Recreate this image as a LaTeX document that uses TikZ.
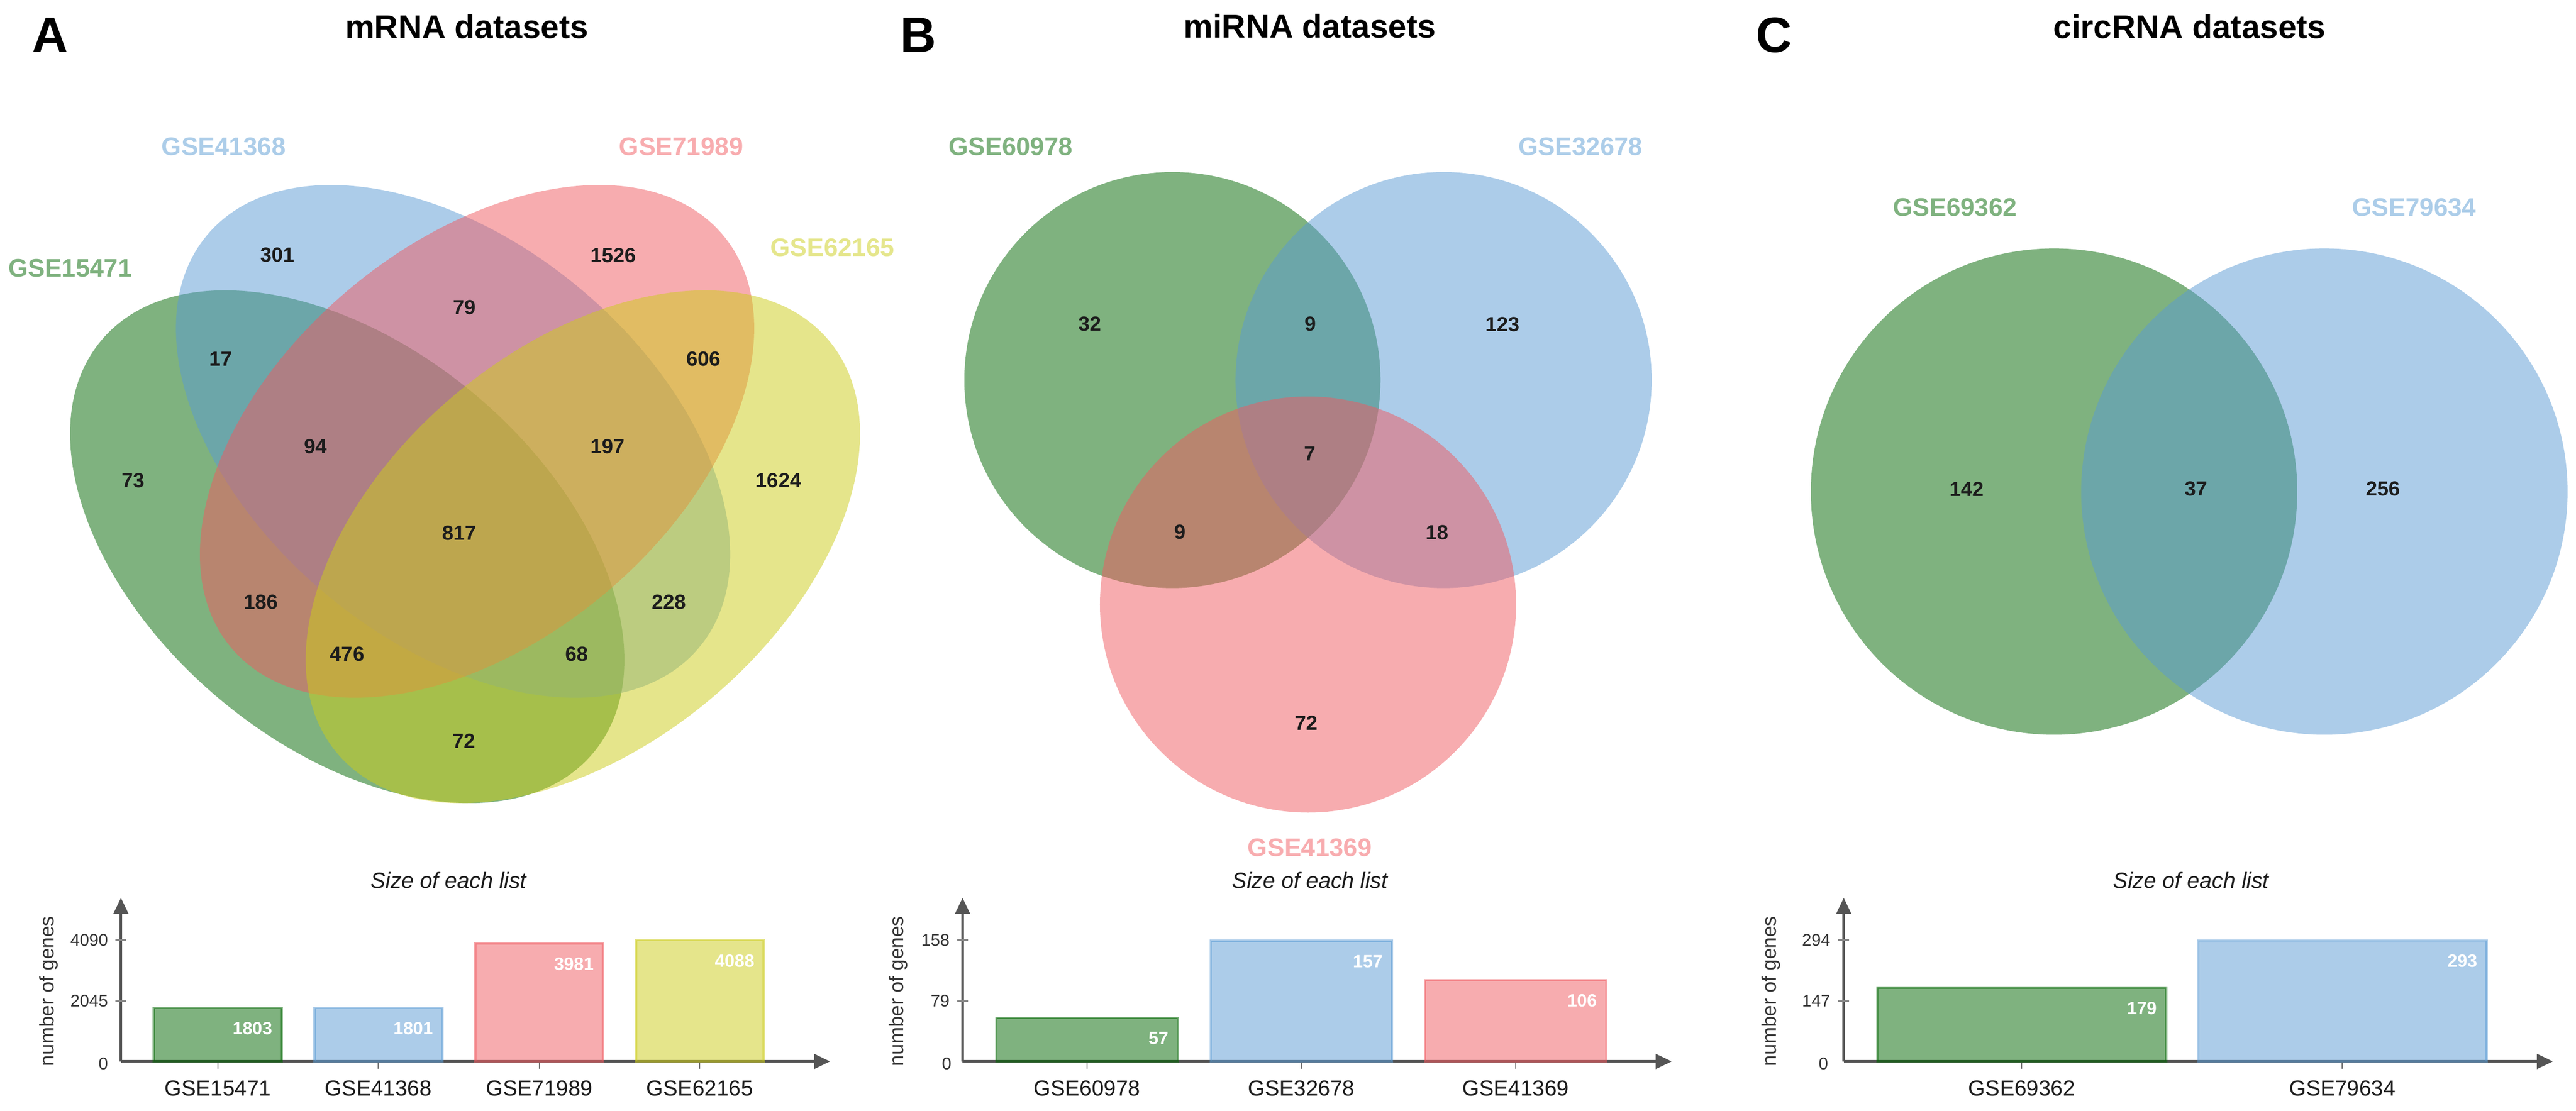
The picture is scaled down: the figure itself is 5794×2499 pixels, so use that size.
\documentclass[tikz,border=0pt]{standalone}
\usepackage{fontspec}
\setmainfont{Liberation Sans}
\usetikzlibrary{arrows.meta}
\definecolor{cg}{RGB}{0,102,0}
\definecolor{cb}{RGB}{90,155,212}
\definecolor{cr}{RGB}{241,90,96}
\definecolor{cy}{RGB}{205,205,25}
\definecolor{lg}{RGB}{127,178,127}
\definecolor{lb}{RGB}{172,205,233}
\definecolor{lr}{RGB}{248,172,175}
\definecolor{ly}{RGB}{229,230,140}
\definecolor{axc}{RGB}{85,85,85}
\definecolor{txt}{RGB}{28,28,28}
\newcommand{\fsz}[1]{\fontsize{#1}{#1}\selectfont}
\tikzset{
  setfill/.style={fill=#1, fill opacity=0.5},
  numlab/.style={font=\fsz{46}\bfseries, text=txt, inner sep=0pt},
  setlab/.style={font=\fsz{57}\bfseries, text=#1, inner sep=0pt},
  paneltitle/.style={font=\fsz{74}\bfseries, inner sep=0pt, anchor=base},
  panelletter/.style={font=\fsz{112}\bfseries, inner sep=0pt, anchor=base},
  chartaxis/.style={draw=axc, line width=5.5pt, -{Triangle[length=36pt,width=33pt]}},
  barrect/.style={fill=#1, fill opacity=0.5, draw=#1, draw opacity=0.5, line width=5pt},
  barval/.style={font=\fsz{40}\bfseries, text=white, inner sep=0pt, anchor=base east},
  ytickmark/.style={draw=axc!70, line width=4pt},
  xtickmark/.style={draw=axc!80, line width=2.5pt},
  ticklab/.style={font=\fsz{38}, text=txt!90, inner sep=0pt, anchor=east},
  catlab/.style={font=\fsz{49}, text=txt, inner sep=0pt, anchor=base},
  ylab/.style={font=\fsz{45}, text=txt!90, inner sep=0pt, rotate=90},
  charttitle/.style={font=\fsz{50}\itshape, text=txt, inner sep=0pt, anchor=base}
}
\begin{document}
\begin{tikzpicture}[x=1pt,y=-1pt]
\fill[white] (0,0) rectangle (5794,2499);
\useasboundingbox (0,0) rectangle (5794,2499);

% ================= Panel A =================
\node[panelletter] (LA) at (113,118) {A};
\node[paneltitle] (TA) at (1050,86) {mRNA datasets};
\begin{scope}[shift={(781,1230)},rotate=-40]
  \fill[setfill=cg] (0,0) ellipse [x radius=722pt, y radius=447pt];
\end{scope}
\begin{scope}[shift={(1019,993)},rotate=-40]
  \fill[setfill=cb] (0,0) ellipse [x radius=722pt, y radius=447pt];
\end{scope}
\begin{scope}[shift={(1073,993)},rotate=40]
  \fill[setfill=cr] (0,0) ellipse [x radius=722pt, y radius=447pt];
\end{scope}
\begin{scope}[shift={(1311,1230)},rotate=40]
  \fill[setfill=cy] (0,0) ellipse [x radius=722pt, y radius=447pt];
\end{scope}
\node[setlab=lb] (sA2) at (503,330) {GSE41368};
\node[setlab=lr] (sA3) at (1532,330) {GSE71989};
\node[setlab=lg] (sA1) at (158,603) {GSE15471};
\node[setlab=ly] (sA4) at (1872,557) {GSE62165};
\node[numlab] (nA1) at (624,573) {301};
\node[numlab] (nA2) at (1380,574) {1526};
\node[numlab] (nA3) at (1045,692) {79};
\node[numlab] (nA4) at (497,807) {17};
\node[numlab] (nA5) at (1582,807) {606};
\node[numlab] (nA6) at (710,1004) {94};
\node[numlab] (nA7) at (1367,1004) {197};
\node[numlab] (nA8) at (300,1081) {73};
\node[numlab] (nA9) at (1751,1081) {1624};
\node[numlab] (nA10) at (1033,1199) {817};
\node[numlab] (nA11) at (587,1355) {186};
\node[numlab] (nA12) at (1505,1355) {228};
\node[numlab] (nA13) at (781,1472) {476};
\node[numlab] (nA14) at (1297,1472) {68};
\node[numlab] (nA15) at (1043,1667) {72};

% bar chart A
\node[charttitle] (cA) at (1009,1998) {Size of each list};
\coordinate (Ao) at (272,2388);
\coordinate (Ax) at (1867,2388);
\coordinate (Ay) at (272,2020);
\draw[chartaxis] (Ao) -- (Ax);
\draw[chartaxis] (Ao) -- (Ay);
\draw[ytickmark] (260,2115) -- (284,2115);
\draw[ytickmark] (260,2251.5) -- (284,2251.5);
\node[ticklab] (tA1) at (243,2115) {4090};
\node[ticklab] (tA2) at (243,2251.5) {2045};
\node[ticklab] (tA3) at (243,2393) {0};
\node[ylab] (yA) at (109,2230) {number of genes};
\draw[barrect=cg] (346,2388) rectangle (633.5,2267.7);
\draw[barrect=cb] (707.5,2388) rectangle (995,2267.8);
\draw[barrect=cr] (1069,2388) rectangle (1356.5,2122.3);
\draw[barrect=cy] (1430.5,2388) rectangle (1718,2115.1);
\node[barval] (vA1) at (612.5,2327.7) {1803};
\node[barval] (vA2) at (974,2327.8) {1801};
\node[barval] (vA3) at (1335.5,2182.3) {3981};
\node[barval] (vA4) at (1697,2175.1) {4088};
\draw[xtickmark] (490,2391) -- (490,2404);
\draw[xtickmark] (851,2391) -- (851,2404);
\draw[xtickmark] (1213,2391) -- (1213,2404);
\draw[xtickmark] (1574,2391) -- (1574,2404);
\node[catlab] (kA1) at (490,2465) {GSE15471};
\node[catlab] (kA2) at (851,2465) {GSE41368};
\node[catlab] (kA3) at (1213,2465) {GSE71989};
\node[catlab] (kA4) at (1574,2465) {GSE62165};

% ================= Panel B =================
\node[panelletter] (LB) at (2065,118) {B};
\node[paneltitle] (TB) at (2946,85) {miRNA datasets};
\fill[setfill=cg] (2637,855) circle [radius=468pt];
\fill[setfill=cb] (3247,855) circle [radius=468pt];
\fill[setfill=cr] (2942,1360) circle [radius=468pt];
\node[setlab=lg] (sB1) at (2273,330) {GSE60978};
\node[setlab=lb] (sB2) at (3555,330) {GSE32678};
\node[setlab=lr] (sB3) at (2946,1907) {GSE41369};
\node[numlab] (nB1) at (2451,729) {32};
\node[numlab] (nB2) at (2947,729) {9};
\node[numlab] (nB3) at (3380,730) {123};
\node[numlab] (nB4) at (2946,1021) {7};
\node[numlab] (nB5) at (2654,1197) {9};
\node[numlab] (nB6) at (3232,1198) {18};
\node[numlab] (nB7) at (2938,1627) {72};

% bar chart B
\node[charttitle] (cB) at (2946,1998) {Size of each list};
\coordinate (Bo) at (2165,2388);
\coordinate (Bx) at (3760,2388);
\coordinate (By) at (2165,2020);
\draw[chartaxis] (Bo) -- (Bx);
\draw[chartaxis] (Bo) -- (By);
\draw[ytickmark] (2153,2115) -- (2177,2115);
\draw[ytickmark] (2153,2251.5) -- (2177,2251.5);
\node[ticklab] (tB1) at (2136,2115) {158};
\node[ticklab] (tB2) at (2136,2251.5) {79};
\node[ticklab] (tB3) at (2140,2393) {0};
\node[ylab] (yB) at (2020,2230) {number of genes};
\draw[barrect=cg] (2241,2388) rectangle (2649,2289.5);
\draw[barrect=cb] (2723,2388) rectangle (3131,2116.7);
\draw[barrect=cr] (3205,2388) rectangle (3613,2204.8);
\node[barval] (vB1) at (2628,2349.5) {57};
\node[barval] (vB2) at (3110,2176.7) {157};
\node[barval] (vB3) at (3592,2264.8) {106};
\draw[xtickmark] (2445,2391) -- (2445,2404);
\draw[xtickmark] (2927,2391) -- (2927,2404);
\draw[xtickmark] (3409,2391) -- (3409,2404);
\node[catlab] (kB1) at (2445,2465) {GSE60978};
\node[catlab] (kB2) at (2927,2465) {GSE32678};
\node[catlab] (kB3) at (3409,2465) {GSE41369};

% ================= Panel C =================
\node[panelletter] (LC) at (3990,118) {C};
\node[paneltitle] (TC) at (4925,86) {circRNA datasets};
\fill[setfill=cg] (4620,1106) circle [radius=547pt];
\fill[setfill=cb] (5228,1106) circle [radius=547pt];
\node[setlab=lg] (sC1) at (4397,466) {GSE69362};
\node[setlab=lb] (sC2) at (5430,466) {GSE79634};
\node[numlab] (nC1) at (4424,1100) {142};
\node[numlab] (nC2) at (4939,1100) {37};
\node[numlab] (nC3) at (5360,1100) {256};

% bar chart C
\node[charttitle] (cC) at (4928,1998) {Size of each list};
\coordinate (Co) at (4147,2388);
\coordinate (Cx) at (5742,2388);
\coordinate (Cy) at (4147,2020);
\draw[chartaxis] (Co) -- (Cx);
\draw[chartaxis] (Co) -- (Cy);
\draw[ytickmark] (4135,2115) -- (4159,2115);
\draw[ytickmark] (4135,2251.5) -- (4159,2251.5);
\node[ticklab] (tC1) at (4117,2115) {294};
\node[ticklab] (tC2) at (4117,2251.5) {147};
\node[ticklab] (tC3) at (4112,2393) {0};
\node[ylab] (yC) at (3983,2230) {number of genes};
\draw[barrect=cg] (4223,2388) rectangle (4872,2221.8);
\draw[barrect=cb] (4944,2388) rectangle (5593,2115.9);
\node[barval] (vC1) at (4851,2281.8) {179};
\node[barval] (vC2) at (5572,2175.9) {293};
\draw[xtickmark] (4547.5,2391) -- (4547.5,2404);
\draw[xtickmark] (5268.5,2391) -- (5268.5,2404);
\node[catlab] (kC1) at (4547.5,2465) {GSE69362};
\node[catlab] (kC2) at (5268.5,2465) {GSE79634};
\end{tikzpicture}
\end{document}
